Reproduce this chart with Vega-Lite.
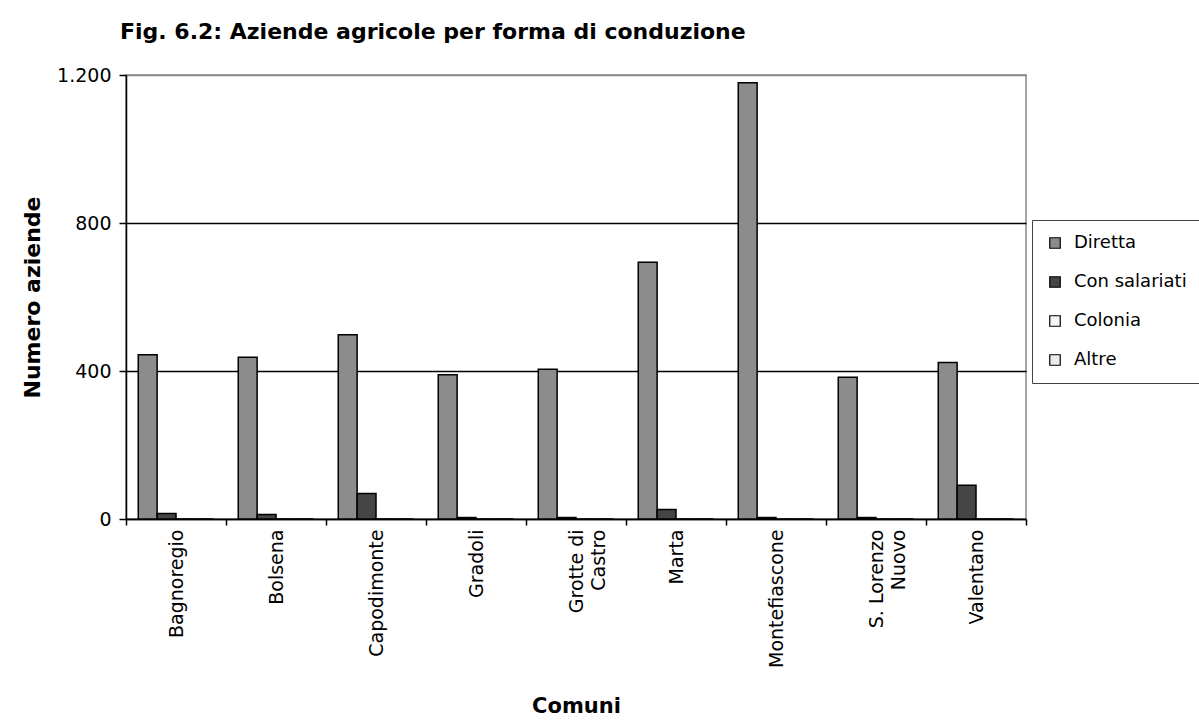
{
  "$schema": "https://vega.github.io/schema/vega-lite/v6.json",
  "width": 900,
  "height": 444,
  "autosize": {"type": "none"},
  "padding": {"left": 126, "top": 75, "right": 173, "bottom": 209},
  "background": "white",
  "title": {
    "text": "Fig. 6.2: Aziende agricole per forma di conduzione",
    "anchor": "start",
    "frame": "group",
    "font": "DejaVu Sans",
    "fontSize": 22,
    "fontWeight": "bold",
    "color": "black",
    "dx": -6,
    "offset": 22
  },
  "config": {
    "view": {"stroke": "#888888", "strokeWidth": 1.5},
    "font": "DejaVu Sans"
  },
  "data": {
    "values": [
      {"comune": "Bagnoregio", "forma": "Diretta", "n": 444},
      {"comune": "Bagnoregio", "forma": "Con salariati", "n": 15},
      {"comune": "Bagnoregio", "forma": "Colonia", "n": 0},
      {"comune": "Bagnoregio", "forma": "Altre", "n": 0},
      {"comune": "Bolsena", "forma": "Diretta", "n": 437},
      {"comune": "Bolsena", "forma": "Con salariati", "n": 12},
      {"comune": "Bolsena", "forma": "Colonia", "n": 0},
      {"comune": "Bolsena", "forma": "Altre", "n": 0},
      {"comune": "Capodimonte", "forma": "Diretta", "n": 498},
      {"comune": "Capodimonte", "forma": "Con salariati", "n": 69},
      {"comune": "Capodimonte", "forma": "Colonia", "n": 0},
      {"comune": "Capodimonte", "forma": "Altre", "n": 0},
      {"comune": "Gradoli", "forma": "Diretta", "n": 390},
      {"comune": "Gradoli", "forma": "Con salariati", "n": 4},
      {"comune": "Gradoli", "forma": "Colonia", "n": 0},
      {"comune": "Gradoli", "forma": "Altre", "n": 0},
      {"comune": "Grotte di Castro", "forma": "Diretta", "n": 405},
      {"comune": "Grotte di Castro", "forma": "Con salariati", "n": 4},
      {"comune": "Grotte di Castro", "forma": "Colonia", "n": 0},
      {"comune": "Grotte di Castro", "forma": "Altre", "n": 0},
      {"comune": "Marta", "forma": "Diretta", "n": 694},
      {"comune": "Marta", "forma": "Con salariati", "n": 26},
      {"comune": "Marta", "forma": "Colonia", "n": 0},
      {"comune": "Marta", "forma": "Altre", "n": 0},
      {"comune": "Montefiascone", "forma": "Diretta", "n": 1179},
      {"comune": "Montefiascone", "forma": "Con salariati", "n": 4},
      {"comune": "Montefiascone", "forma": "Colonia", "n": 0},
      {"comune": "Montefiascone", "forma": "Altre", "n": 0},
      {"comune": "S. Lorenzo Nuovo", "forma": "Diretta", "n": 383},
      {"comune": "S. Lorenzo Nuovo", "forma": "Con salariati", "n": 4},
      {"comune": "S. Lorenzo Nuovo", "forma": "Colonia", "n": 0},
      {"comune": "S. Lorenzo Nuovo", "forma": "Altre", "n": 0},
      {"comune": "Valentano", "forma": "Diretta", "n": 423},
      {"comune": "Valentano", "forma": "Con salariati", "n": 91},
      {"comune": "Valentano", "forma": "Colonia", "n": 0},
      {"comune": "Valentano", "forma": "Altre", "n": 0}
    ]
  },
  "mark": {"type": "bar", "stroke": "black", "strokeWidth": 1.5},
  "encoding": {
    "x": {
      "field": "comune",
      "type": "nominal",
      "sort": null,
      "scale": {"paddingInner": 0, "paddingOuter": 0},
      "axis": {
        "title": "Comuni",
        "titleFont": "DejaVu Sans",
        "titleFontSize": 21,
        "titleFontWeight": "bold",
        "titleColor": "black",
        "titlePadding": 28,
        "labelAngle": 270,
        "labelAlign": "right",
        "labelBaseline": "middle",
        "labelFont": "DejaVu Sans",
        "labelFontSize": 19,
        "labelColor": "black",
        "labelPadding": 4,
        "labelLineHeight": 22,
        "labelExpr": "datum.value == 'Grotte di Castro' ? ['Grotte di', 'Castro'] : datum.value == 'S. Lorenzo Nuovo' ? ['S. Lorenzo', 'Nuovo'] : datum.value",
        "tickBand": "extent",
        "tickSize": 6,
        "tickColor": "black",
        "tickWidth": 1.5,
        "domainColor": "black",
        "domainWidth": 1.5,
        "grid": false
      }
    },
    "xOffset": {
      "field": "forma",
      "type": "nominal",
      "sort": ["Diretta", "Con salariati", "Colonia", "Altre"],
      "scale": {"paddingInner": 0, "paddingOuter": 0.65}
    },
    "y": {
      "field": "n",
      "type": "quantitative",
      "scale": {"domain": [0, 1200], "nice": false},
      "axis": {
        "title": "Numero aziende",
        "titleFont": "DejaVu Sans",
        "titleFontSize": 22,
        "titleFontWeight": "bold",
        "titleColor": "black",
        "titlePadding": 12,
        "values": [0, 400, 800, 1200],
        "labelExpr": "replace(format(datum.value, ','), ',', '.')",
        "labelFont": "DejaVu Sans",
        "labelFontSize": 19,
        "labelColor": "black",
        "labelPadding": 8,
        "tickSize": 7,
        "tickColor": "black",
        "tickWidth": 1.5,
        "domainColor": "black",
        "domainWidth": 1.5,
        "grid": true,
        "gridColor": {"condition": {"test": "datum.value == 1200", "value": "#888888"}, "value": "black"},
        "gridWidth": 1.5
      }
    },
    "color": {
      "field": "forma",
      "type": "nominal",
      "sort": ["Diretta", "Con salariati", "Colonia", "Altre"],
      "scale": {
        "domain": ["Diretta", "Con salariati", "Colonia", "Altre"],
        "range": ["#8c8c8c", "#454545", "#f6f6f6", "#ececec"]
      },
      "legend": {
        "title": null,
        "orient": "none",
        "legendX": 906,
        "legendY": 145,
        "direction": "vertical",
        "symbolType": "square",
        "symbolSize": 110,
        "symbolStrokeColor": "black",
        "symbolStrokeWidth": 1.2,
        "labelFont": "DejaVu Sans",
        "labelFontSize": 18,
        "labelColor": "black",
        "labelOffset": 10,
        "rowPadding": 21,
        "padding": 14,
        "strokeColor": "#444444",
        "fillColor": "white"
      }
    }
  }
}
